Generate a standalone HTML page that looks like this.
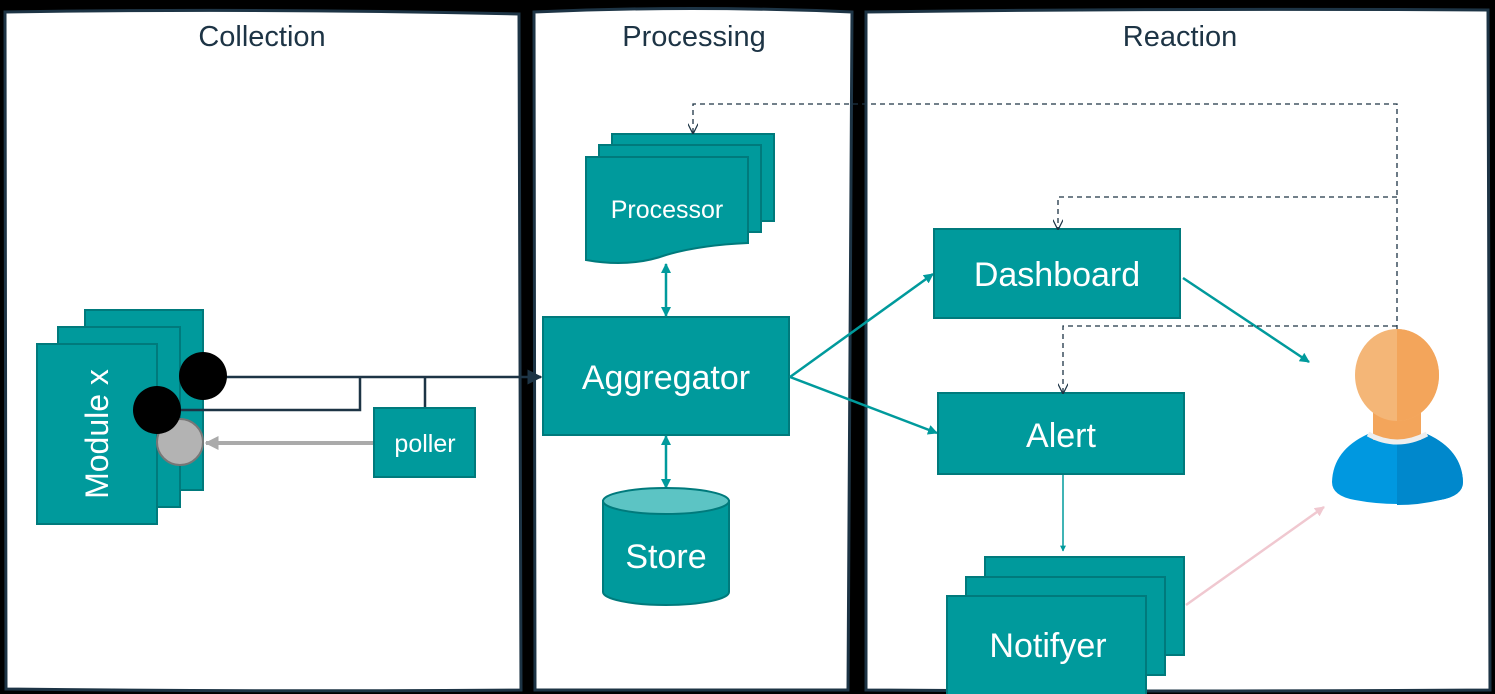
<!DOCTYPE html>
<html><head><style>
html,body{margin:0;padding:0;background:#000;}
svg{display:block;font-family:"Liberation Sans",sans-serif;}
</style></head><body>
<svg width="1495" height="694" viewBox="0 0 1495 694" xmlns="http://www.w3.org/2000/svg">
<defs>
<marker id="ad" viewBox="0 0 10 10" refX="9" refY="5" markerWidth="6" markerHeight="6" orient="auto-start-reverse"><path d="M0,0L10,5L0,10z" fill="#1d3445"/></marker>
<marker id="at" viewBox="0 0 10 10" refX="9" refY="5" markerWidth="4" markerHeight="4" orient="auto-start-reverse"><path d="M0,0L10,5L0,10z" fill="#009a9c"/></marker>
<marker id="ag" viewBox="0 0 10 10" refX="9" refY="5" markerWidth="3.5" markerHeight="3.5" orient="auto-start-reverse"><path d="M0,0L10,5L0,10z" fill="#aaa"/></marker>
<marker id="ap" viewBox="0 0 10 10" refX="9" refY="5" markerWidth="4" markerHeight="4" orient="auto-start-reverse"><path d="M0,0L10,5L0,10z" fill="#f0c8d0"/></marker>
<marker id="av" viewBox="0 0 10 10" refX="9" refY="5" markerWidth="8" markerHeight="8" orient="auto"><path d="M0,0L10,5L0,10" fill="none" stroke="#1d3445" stroke-width="1.2"/></marker>
</defs>
<rect width="1495" height="694" fill="#000"/>
<g fill="#fff" stroke="#1d3445" stroke-width="3">
<path d="M5,12 Q260,8 519,14 L521,690 Q260,692 6,689 Z"/>
<path d="M534,12 Q690,5 852,12 L848,690 L535,690 Z"/>
<path d="M866,12 Q1180,8 1488,10 L1490,690 Q1180,692 866,690 Z"/>
</g>
<g fill="#1d3445" font-size="29" text-anchor="middle">
<text x="262" y="46">Collection</text>
<text x="694" y="46">Processing</text>
<text x="1180" y="46">Reaction</text>
</g>
<g fill="#009a9c" stroke="#007a7c" stroke-width="2">
<rect x="85" y="310" width="118" height="180"/>
<rect x="58" y="327" width="122" height="180"/>
<rect x="37" y="344" width="120" height="180"/>
</g>
<text transform="translate(108,434) rotate(-90)" fill="#fff" font-size="32" text-anchor="middle">Module x</text>
<g fill="none" stroke="#1d3445" stroke-width="2.5">
<path d="M205,377 H541" marker-end="url(#ad)"/>
<path d="M170,410 H360 V377"/>
<path d="M425,377 V408"/>
</g>
<path d="M374,443 H206" stroke="#aaa" stroke-width="4" marker-end="url(#ag)"/>
<circle cx="180" cy="442" r="23" fill="#b3b3b3" stroke="#777" stroke-width="2"/>
<circle cx="203" cy="376" r="24" fill="#000"/>
<circle cx="157" cy="410" r="24" fill="#000"/>
<rect x="374" y="408" width="101" height="69" fill="#009a9c" stroke="#007a7c" stroke-width="2"/>
<text x="425" y="452" fill="#fff" font-size="25" text-anchor="middle">poller</text>
<g fill="#009a9c" stroke="#007a7c" stroke-width="2">
<rect x="612" y="134" width="162" height="87"/>
<rect x="599" y="145" width="162" height="87"/>
<path d="M586,157 H748 V243 Q700,245 666,255 Q630,268 586,260 Z"/>
</g>
<text x="667" y="218" fill="#fff" font-size="25" text-anchor="middle">Processor</text>
<rect x="543" y="317" width="246" height="118" fill="#009a9c" stroke="#007a7c" stroke-width="2"/>
<text x="666" y="389" fill="#fff" font-size="34" text-anchor="middle">Aggregator</text>
<g stroke="#009a9c" stroke-width="2.5" fill="none">
<path d="M666,264 V316" marker-start="url(#at)" marker-end="url(#at)"/>
<path d="M666,436 V488" marker-start="url(#at)" marker-end="url(#at)"/>
<path d="M790,377 L933,274" marker-end="url(#at)"/>
<path d="M790,377 L937,433" marker-end="url(#at)"/>
<path d="M1183,278 L1309,362" marker-end="url(#at)"/>
<path d="M1063,475 V551" stroke-width="1.5" marker-end="url(#at)"/>
</g>
<path d="M1186,605 L1324,507" stroke="#f0c8d0" stroke-width="2.5" marker-end="url(#ap)"/>
<path d="M603,501 V592 A63,13 0 0 0 729,592 V501 Z" fill="#009a9c" stroke="#007a7c" stroke-width="2"/>
<ellipse cx="666" cy="501" rx="63" ry="13" fill="#5cc4c4" stroke="#007a7c" stroke-width="2"/>
<text x="666" y="568" fill="#fff" font-size="34" text-anchor="middle">Store</text>
<rect x="934" y="229" width="246" height="89" fill="#009a9c" stroke="#007a7c" stroke-width="2"/>
<text x="1057" y="286" fill="#fff" font-size="34" text-anchor="middle">Dashboard</text>
<rect x="938" y="393" width="246" height="81" fill="#009a9c" stroke="#007a7c" stroke-width="2"/>
<text x="1061" y="447" fill="#fff" font-size="34" text-anchor="middle">Alert</text>
<g fill="#009a9c" stroke="#007a7c" stroke-width="2">
<rect x="985" y="557" width="199" height="98"/>
<rect x="966" y="577" width="199" height="98"/>
<rect x="947" y="596" width="199" height="100"/>
</g>
<text x="1048" y="657" fill="#fff" font-size="34" text-anchor="middle">Notifyer</text>
<g fill="none" stroke="#1d3445" stroke-width="1.3" stroke-dasharray="5,4">
<path d="M1397,330 V104 H693 V133" marker-end="url(#av)"/>
<path d="M1397,197 H1058 V229" marker-end="url(#av)"/>
<path d="M1397,326 H1063 V393" marker-end="url(#av)"/>
</g>
<path d="M1368,434 Q1333,450 1332,482 Q1332,496 1355,500 Q1397,508 1440,500 Q1463,496 1463,482 Q1462,450 1427,434 Z" fill="#0098e0"/>
<path d="M1397,436 L1427,434 Q1462,450 1463,482 Q1463,496 1440,500 Q1420,505 1397,505 Z" fill="#0088cc"/>
<rect x="1373" y="410" width="48" height="30" fill="#f3a55b"/>
<path d="M1368,434 Q1397,450 1427,434" stroke="#eee" stroke-width="5" fill="none"/>
<ellipse cx="1397" cy="375" rx="42" ry="46" fill="#f4b677"/>
<path d="M1397,329 A42,46 0 0 1 1397,421 Z" fill="#f3a55b"/>
</svg>
</body></html>
